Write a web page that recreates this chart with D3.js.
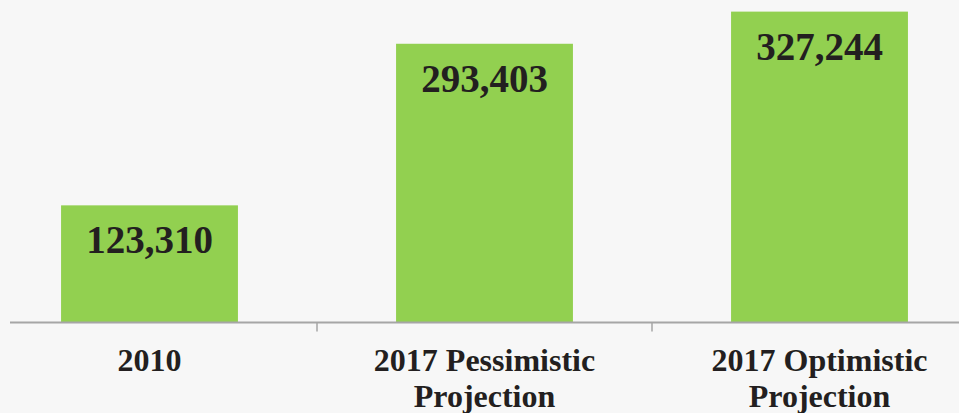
<!DOCTYPE html>
<html><head><meta charset="utf-8">
<script src="https://cdn.jsdelivr.net/npm/d3@7"></script>
<style>html,body{margin:0;padding:0;background:#f7f7f7;overflow:hidden}</style>
</head><body>
<svg id="c" width="959" height="413"></svg>
<script>
const categories = [["2010"], ["2017 Pessimistic", "Projection"], ["2017 Optimistic", "Projection"]];
const values = [123310, 293403, 327244];
const valueLabels = ["123,310", "293,403", "327,244"];

const W = 959, H = 413;
const svg = d3.select("#c");
svg.append("rect").attr("width", W).attr("height", H).attr("fill", "#f7f7f7");

const keys = categories.map(c => c.join(" "));
const x = d3.scaleBand().domain(keys).range([-18, 987]).padding(0);
const y = d3.scaleLinear().domain([0, 340000]).range([322.5, -0.5]);
const barW = x.bandwidth() * 0.528;

const g = svg.append("g");
g.selectAll("rect.bar").data(values).enter().append("rect")
  .attr("class", "bar")
  .attr("x", (d, i) => x(keys[i]) + x.bandwidth() / 2 - barW / 2)
  .attr("width", barW)
  .attr("y", d => y(d))
  .attr("height", d => y(0) - y(d))
  .attr("fill", "#92d050");

g.selectAll("text.val").data(values).enter().append("text")
  .attr("class", "val")
  .attr("x", (d, i) => x(keys[i]) + x.bandwidth() / 2)
  .attr("y", d => y(d) + 48)
  .attr("text-anchor", "middle")
  .attr("font-family", "Liberation Serif, Times New Roman, serif")
  .attr("font-weight", "bold")
  .attr("font-size", 39)
  .attr("fill", "#231f20")
  .text((d, i) => valueLabels[i]);

// axis
const ax = svg.append("g").attr("transform", "translate(0,322.5)");
ax.append("line").attr("x1", 10).attr("x2", W).attr("y1", 0).attr("y2", 0)
  .attr("stroke", "#a6a6a6").attr("stroke-width", 2);
const tickPos = keys.slice(1).map(k => x(k));
ax.selectAll("line.tick").data(tickPos).enter().append("line")
  .attr("class", "tick")
  .attr("x1", d => d).attr("x2", d => d).attr("y1", 0).attr("y2", 9)
  .attr("stroke", "#a6a6a6").attr("stroke-width", 1.5);

const labels = svg.append("g");
categories.forEach((lines, i) => {
  const t = labels.append("text")
    .attr("x", x(keys[i]) + x.bandwidth() / 2)
    .attr("y", 371)
    .attr("text-anchor", "middle")
    .attr("font-family", "Liberation Serif, Times New Roman, serif")
    .attr("font-weight", "bold")
    .attr("font-size", 32)
    .attr("fill", "#231f20");
  lines.forEach((l, j) => {
    t.append("tspan").attr("x", x(keys[i]) + x.bandwidth() / 2)
      .attr("dy", j === 0 ? 0 : 35.5).text(l);
  });
});
</script>
</body></html>
